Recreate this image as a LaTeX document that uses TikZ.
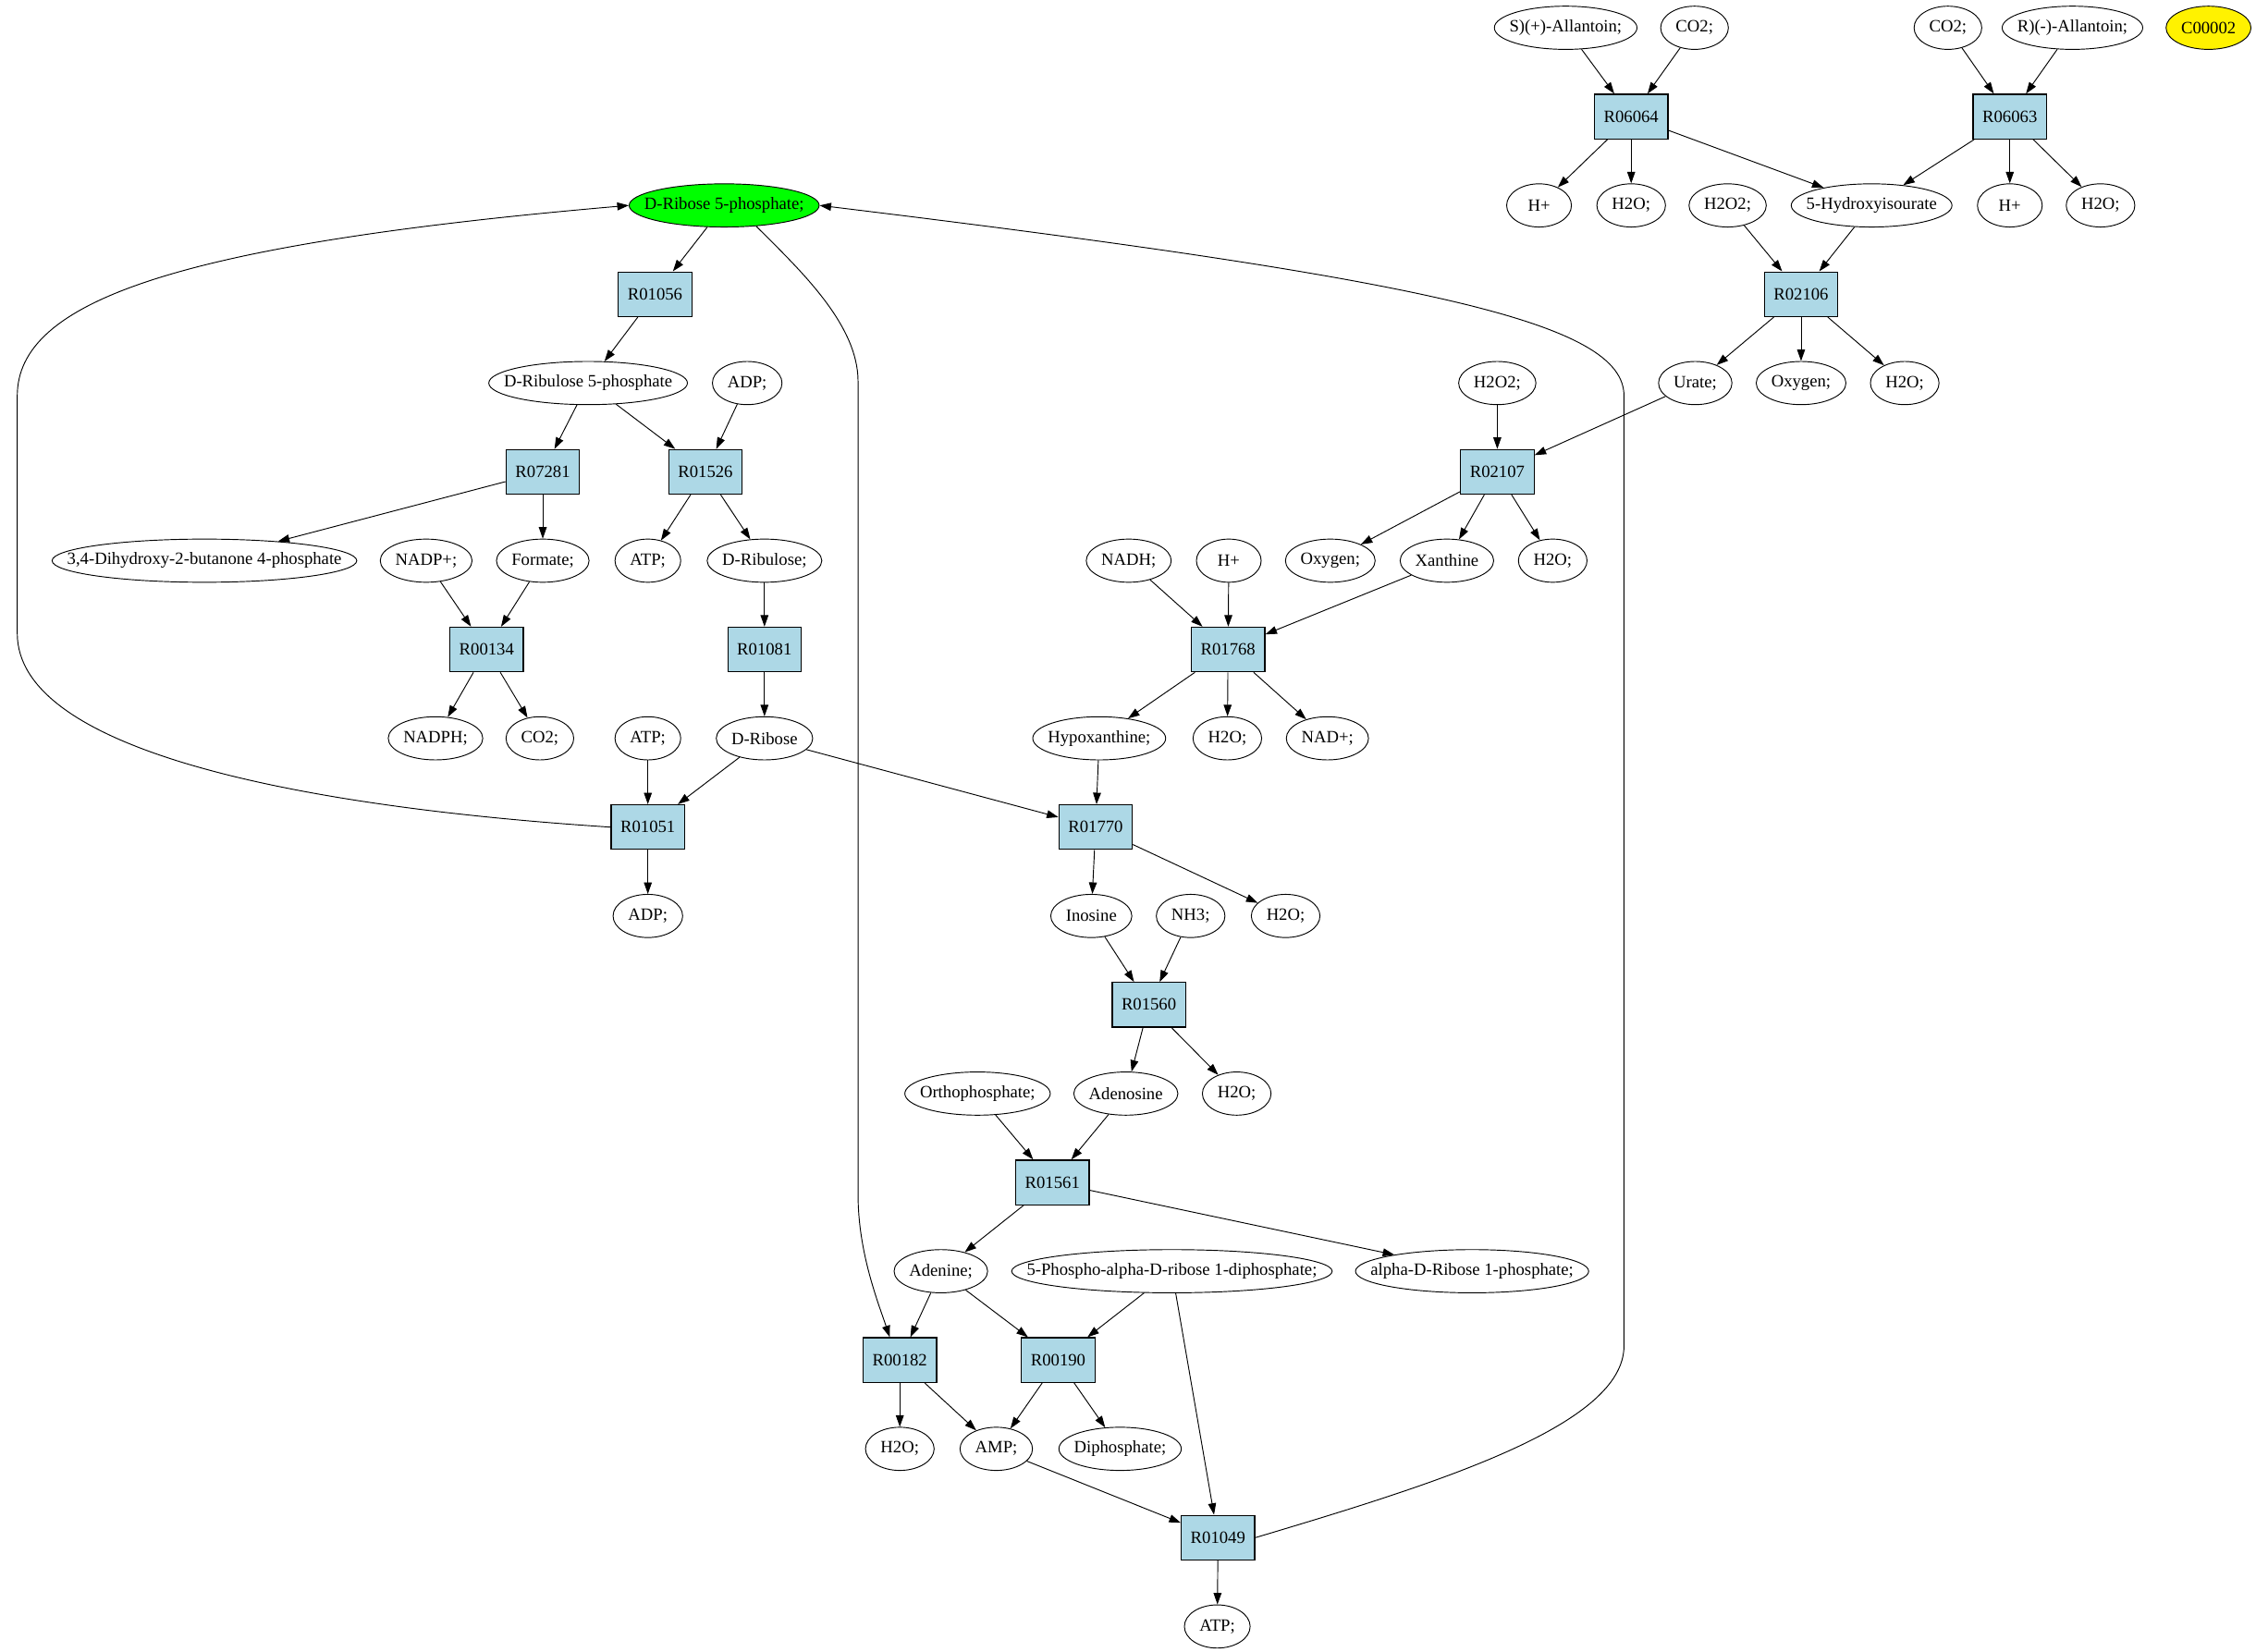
\documentclass[tikz,border=0pt]{standalone}
\usepackage{fontspec}
\setmainfont{Liberation Serif}
\usetikzlibrary{arrows.meta,shapes.geometric}
\definecolor{rxnblue}{RGB}{173,216,230}
\newsavebox\metbox
\begin{document}
\begin{tikzpicture}[x=1pt,y=-1pt,
    every node/.style={font=\fontsize{12}{14}\selectfont},
    rxn/.style={draw,line width=0.8pt,fill=rxnblue,inner sep=0pt,minimum width=51pt,minimum height=31pt},
    met/.style={draw,line width=0.6pt,ellipse,inner sep=0pt,minimum width=45pt,minimum height=30pt,
      execute at begin node={\setbox\metbox\hbox\bgroup},
      execute at end node={\egroup\hbox to 0.7071\dimexpr\wd\metbox+21pt\relax{\hss\usebox\metbox\hss}}},
    edge/.style={-{Triangle[length=8pt,width=5.5pt]},line width=0.6pt}]
  \useasboundingbox (0,0) rectangle (1567,1147.6);

  % reactions
  \node[rxn] (r06064) at (1133,81) {R06064};
  \node[rxn] (r06063) at (1396,81) {R06063};
  \node[rxn] (r01056) at (455,204.4) {R01056};
  \node[rxn] (r02106) at (1251,204.4) {R02106};
  \node[rxn] (r07281) at (377,327.8) {R07281};
  \node[rxn] (r01526) at (490,327.8) {R01526};
  \node[rxn] (r02107) at (1040,327.8) {R02107};
  \node[rxn] (r00134) at (338,451.2) {R00134};
  \node[rxn] (r01081) at (531,451.2) {R01081};
  \node[rxn] (r01768) at (853,451.2) {R01768};
  \node[rxn] (r01051) at (450,574.6) {R01051};
  \node[rxn] (r01770) at (761,574.6) {R01770};
  \node[rxn] (r01560) at (798,698) {R01560};
  \node[rxn] (r01561) at (731,821.4) {R01561};
  \node[rxn] (r00182) at (625,944.8) {R00182};
  \node[rxn] (r00190) at (735,944.8) {R00190};
  \node[rxn] (r01049) at (846,1068.2) {R01049};

  % compounds
  \node[met] (sall) at (1087.5,19.3) {S)(+)-Allantoin;};
  \node[met] (co2a) at (1177,19.3) {CO2;};
  \node[met] (co2b) at (1353,19.3) {CO2;};
  \node[met] (rall) at (1439.5,19.3) {R)(-)-Allantoin;};
  \node[met,fill=yellow] (c00002) at (1534,19.3) {C00002};

  \node[met,fill=green] (dr5p) at (503,142.7) {D-Ribose 5-phosphate;};
  \node[met] (hp1) at (1069,142.7) {H+};
  \node[met] (h2o1) at (1133,142.7) {H2O;};
  \node[met] (h2o2a) at (1200,142.7) {H2O2;};
  \node[met] (hiu) at (1300,142.7) {5-Hydroxyisourate};
  \node[met] (hp2) at (1396,142.7) {H+};
  \node[met] (h2o2) at (1459,142.7) {H2O;};

  \node[met] (dr5) at (408.5,266.1) {D-Ribulose 5-phosphate};
  \node[met] (adp1) at (519,266.1) {ADP;};
  \node[met] (h2o2b) at (1040,266.1) {H2O2;};
  \node[met] (urate) at (1177.5,266.1) {Urate;};
  \node[met] (oxy1) at (1251,266.1) {Oxygen;};
  \node[met] (h2o3) at (1323,266.1) {H2O;};

  \node[met] (dhb) at (142,389.5) {3,4-Dihydroxy-2-butanone 4-phosphate};
  \node[met] (nadp) at (296,389.5) {NADP+;};
  \node[met] (form) at (377,389.5) {Formate;};
  \node[met] (atp1) at (450,389.5) {ATP;};
  \node[met] (drul) at (531,389.5) {D-Ribulose;};
  \node[met] (nadh) at (784,389.5) {NADH;};
  \node[met] (hp3) at (853.5,389.5) {H+};
  \node[met] (oxy2) at (924,389.5) {Oxygen;};
  \node[met] (xan) at (1005,389.5) {Xanthine};
  \node[met] (h2o4) at (1078.5,389.5) {H2O;};

  \node[met] (nadph) at (302.5,512.9) {NADPH;};
  \node[met] (co2c) at (375,512.9) {CO2;};
  \node[met] (atp2) at (450,512.9) {ATP;};
  \node[met] (drib) at (531,512.9) {D-Ribose};
  \node[met] (hypx) at (763.5,512.9) {Hypoxanthine;};
  \node[met] (h2o5) at (852.5,512.9) {H2O;};
  \node[met] (nad) at (922,512.9) {NAD+;};

  \node[met] (adp2) at (450,636.3) {ADP;};
  \node[met] (ino) at (758,636.3) {Inosine};
  \node[met] (nh3) at (827,636.3) {NH3;};
  \node[met] (h2o6) at (893,636.3) {H2O;};

  \node[met] (orth) at (679,759.7) {Orthophosphate;};
  \node[met] (ados) at (782,759.7) {Adenosine};
  \node[met] (h2o7) at (859,759.7) {H2O;};

  \node[met] (aden) at (653.5,883.1) {Adenine;};
  \node[met] (prpp) at (814,883.1) {5-Phospho-alpha-D-ribose 1-diphosphate;};
  \node[met] (ar1p) at (1022.5,883.1) {alpha-D-Ribose 1-phosphate;};

  \node[met] (h2o8) at (625,1006.5) {H2O;};
  \node[met] (amp) at (692,1006.5) {AMP;};
  \node[met] (dip) at (778,1006.5) {Diphosphate;};

  \node[met] (atp3) at (845.5,1129.9) {ATP;};

  % allantoin to urate
  \draw[edge] (sall) -- (r06064);
  \draw[edge] (co2a) -- (r06064);
  \draw[edge] (r06064) -- (hp1);
  \draw[edge] (r06064) -- (h2o1);
  \draw[edge] (r06064) -- (hiu);
  \draw[edge] (co2b) -- (r06063);
  \draw[edge] (rall) -- (r06063);
  \draw[edge] (r06063) -- (hiu);
  \draw[edge] (r06063) -- (hp2);
  \draw[edge] (r06063) -- (h2o2);
  \draw[edge] (h2o2a) -- (r02106);
  \draw[edge] (hiu) -- (r02106);
  \draw[edge] (r02106) -- (urate);
  \draw[edge] (r02106) -- (oxy1);
  \draw[edge] (r02106) -- (h2o3);

  % urate down to adenine
  \draw[edge] (h2o2b) -- (r02107);
  \draw[edge] (urate) -- (r02107);
  \draw[edge] (r02107) -- (oxy2);
  \draw[edge] (r02107) -- (xan);
  \draw[edge] (r02107) -- (h2o4);
  \draw[edge] (nadh) -- (r01768);
  \draw[edge] (hp3) -- (r01768);
  \draw[edge] (xan) -- (r01768);
  \draw[edge] (r01768) -- (hypx);
  \draw[edge] (r01768) -- (h2o5);
  \draw[edge] (r01768) -- (nad);
  \draw[edge] (hypx) -- (r01770);
  \draw[edge] (drib) -- (r01770);
  \draw[edge] (r01770) -- (ino);
  \draw[edge] (r01770) -- (h2o6);
  \draw[edge] (ino) -- (r01560);
  \draw[edge] (nh3) -- (r01560);
  \draw[edge] (r01560) -- (ados);
  \draw[edge] (r01560) -- (h2o7);
  \draw[edge] (orth) -- (r01561);
  \draw[edge] (ados) -- (r01561);
  \draw[edge] (r01561) -- (aden);
  \draw[edge] (r01561) -- (ar1p);
  \draw[edge] (aden) -- (r00182);
  \draw[edge] (aden) -- (r00190);
  \draw[edge] (prpp) -- (r00190);
  \draw[edge] (prpp) -- (r01049);
  \draw[edge] (r00182) -- (h2o8);
  \draw[edge] (r00182) -- (amp);
  \draw[edge] (r00190) -- (amp);
  \draw[edge] (r00190) -- (dip);
  \draw[edge] (amp) -- (r01049);
  \draw[edge] (r01049) -- (atp3);

  % ribose 5-phosphate branch
  \draw[edge] (dr5p) -- (r01056);
  \draw[edge] (r01056) -- (dr5);
  \draw[edge] (dr5) -- (r07281);
  \draw[edge] (dr5) -- (r01526);
  \draw[edge] (adp1) -- (r01526);
  \draw[edge] (r07281) -- (dhb);
  \draw[edge] (r07281) -- (form);
  \draw[edge] (r01526) -- (atp1);
  \draw[edge] (r01526) -- (drul);
  \draw[edge] (nadp) -- (r00134);
  \draw[edge] (form) -- (r00134);
  \draw[edge] (r00134) -- (nadph);
  \draw[edge] (r00134) -- (co2c);
  \draw[edge] (drul) -- (r01081);
  \draw[edge] (r01081) -- (drib);
  \draw[edge] (atp2) -- (r01051);
  \draw[edge] (drib) -- (r01051);
  \draw[edge] (r01051) -- (adp2);

  % long returns
  \draw[edge] (r01051.west) .. controls (200,560) and (12,520) .. (12,440)
    -- (12,275) .. controls (12,210) and (120,170) .. (dr5p.west);
  \draw[edge] (dr5p.-33) .. controls (555,187) and (596,225) .. (596,265)
    -- (596,830) .. controls (596,870) and (610,905) .. ([xshift=-7pt]r00182.north);
  \draw[edge] (r01049.east) .. controls (1000,1030) and (1128,990) .. (1128,935)
    -- (1128,275) .. controls (1128,225) and (1000,195) .. (dr5p.east);
\end{tikzpicture}
\end{document}
